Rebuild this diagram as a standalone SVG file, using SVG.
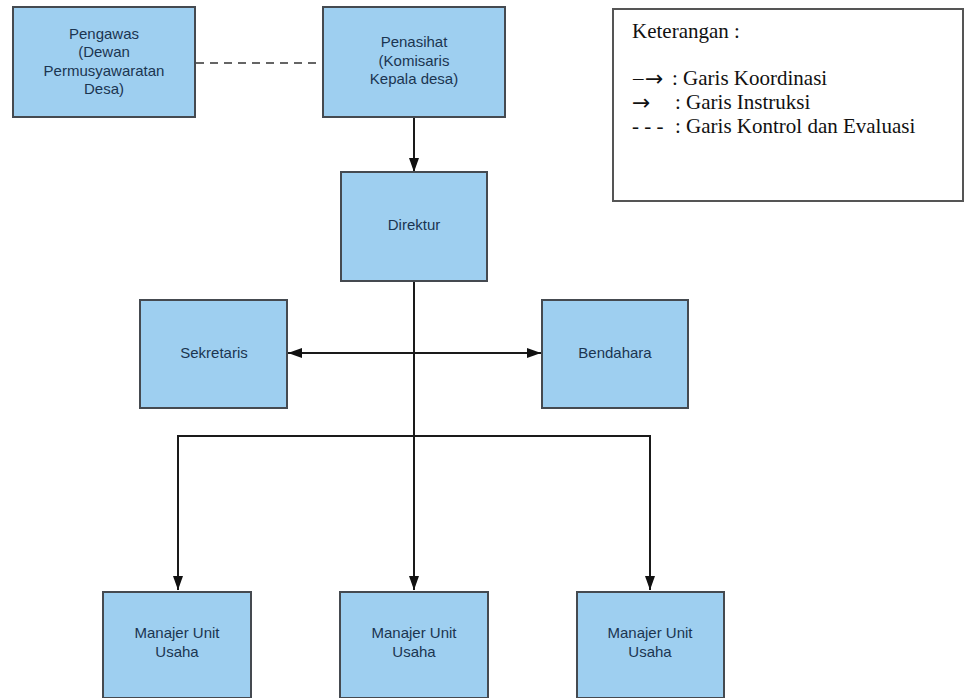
<svg xmlns="http://www.w3.org/2000/svg" width="966" height="698" viewBox="0 0 966 698">
<style>
.box{fill:#9ecff0;stroke:#454a50;stroke-width:2}
.lbl{font-family:"Liberation Sans",Arial,sans-serif;font-size:15px;fill:#1b3550;text-anchor:middle}
.ln{stroke:#1a1a1a;stroke-width:2;fill:none}
.dash{stroke:#333;stroke-width:1.6;fill:none;stroke-dasharray:8 6}
.leg{font-family:"Liberation Serif","Times New Roman",serif;font-size:21px;fill:#111}
.arr{font-family:"DejaVu Sans",sans-serif;font-size:22px;fill:#111}
</style>
<defs>
<marker id="ah" viewBox="0 0 14 10" refX="14" refY="5" markerWidth="14" markerHeight="10" markerUnits="userSpaceOnUse" orient="auto-start-reverse">
<path d="M0,0 L14,5 L0,10 z" fill="#111"/>
</marker>
</defs>
<g id="connectors">
<line class="dash" x1="196" y1="63" x2="323" y2="63"/>
<line class="ln" x1="414" y1="117" x2="414" y2="172" marker-end="url(#ah)"/>
<line class="ln" x1="414" y1="281" x2="414" y2="590" marker-end="url(#ah)"/>
<line class="ln" x1="288" y1="353" x2="541" y2="353" marker-start="url(#ah)" marker-end="url(#ah)"/>
<polyline class="ln" points="178,590 178,436 650,436 650,590" marker-start="url(#ah)" marker-end="url(#ah)"/>
</g>
<g id="pengawas">
<rect class="box" x="13" y="7" width="182" height="110"/>
<text class="lbl"><tspan x="104" y="38.5">Pengawas</tspan><tspan x="104" y="57">(Dewan</tspan><tspan x="104" y="75.5">Permusyawaratan</tspan><tspan x="104" y="94">Desa)</tspan></text>
</g>
<g id="penasihat">
<rect class="box" x="323" y="7" width="182" height="110"/>
<text class="lbl"><tspan x="414" y="47">Penasihat</tspan><tspan x="414" y="65.5">(Komisaris</tspan><tspan x="414" y="84">Kepala desa)</tspan></text>
</g>
<g id="direktur">
<rect class="box" x="341" y="172" width="146" height="109"/>
<text class="lbl" x="414" y="230">Direktur</text>
</g>
<g id="sekretaris">
<rect class="box" x="140" y="300" width="147" height="108"/>
<text class="lbl" x="214" y="358">Sekretaris</text>
</g>
<g id="bendahara">
<rect class="box" x="542" y="300" width="146" height="108"/>
<text class="lbl" x="615" y="358">Bendahara</text>
</g>
<g id="manajer1">
<rect class="box" x="103" y="592" width="148" height="106"/>
<text class="lbl"><tspan x="177" y="638">Manajer Unit</tspan><tspan x="177" y="657">Usaha</tspan></text>
</g>
<g id="manajer2">
<rect class="box" x="340" y="592" width="148" height="106"/>
<text class="lbl"><tspan x="414" y="638">Manajer Unit</tspan><tspan x="414" y="657">Usaha</tspan></text>
</g>
<g id="manajer3">
<rect class="box" x="577" y="592" width="147" height="106"/>
<text class="lbl"><tspan x="650" y="638">Manajer Unit</tspan><tspan x="650" y="657">Usaha</tspan></text>
</g>
<g id="legend">
<rect x="613" y="9" width="350" height="192" fill="#fff" stroke="#555" stroke-width="2"/>
<text class="leg" x="632" y="38">Keterangan :</text>
<text class="leg" x="633" y="85">–</text>
<text class="arr" x="645" y="86">→</text>
<text class="leg" x="672" y="85">: Garis Koordinasi</text>
<text class="arr" x="632" y="110">→</text>
<text class="leg" x="675" y="109">: Garis Instruksi</text>
<text class="leg" x="632" y="133">- - -</text>
<text class="leg" x="675" y="133">: Garis Kontrol dan Evaluasi</text>
</g>
</svg>
